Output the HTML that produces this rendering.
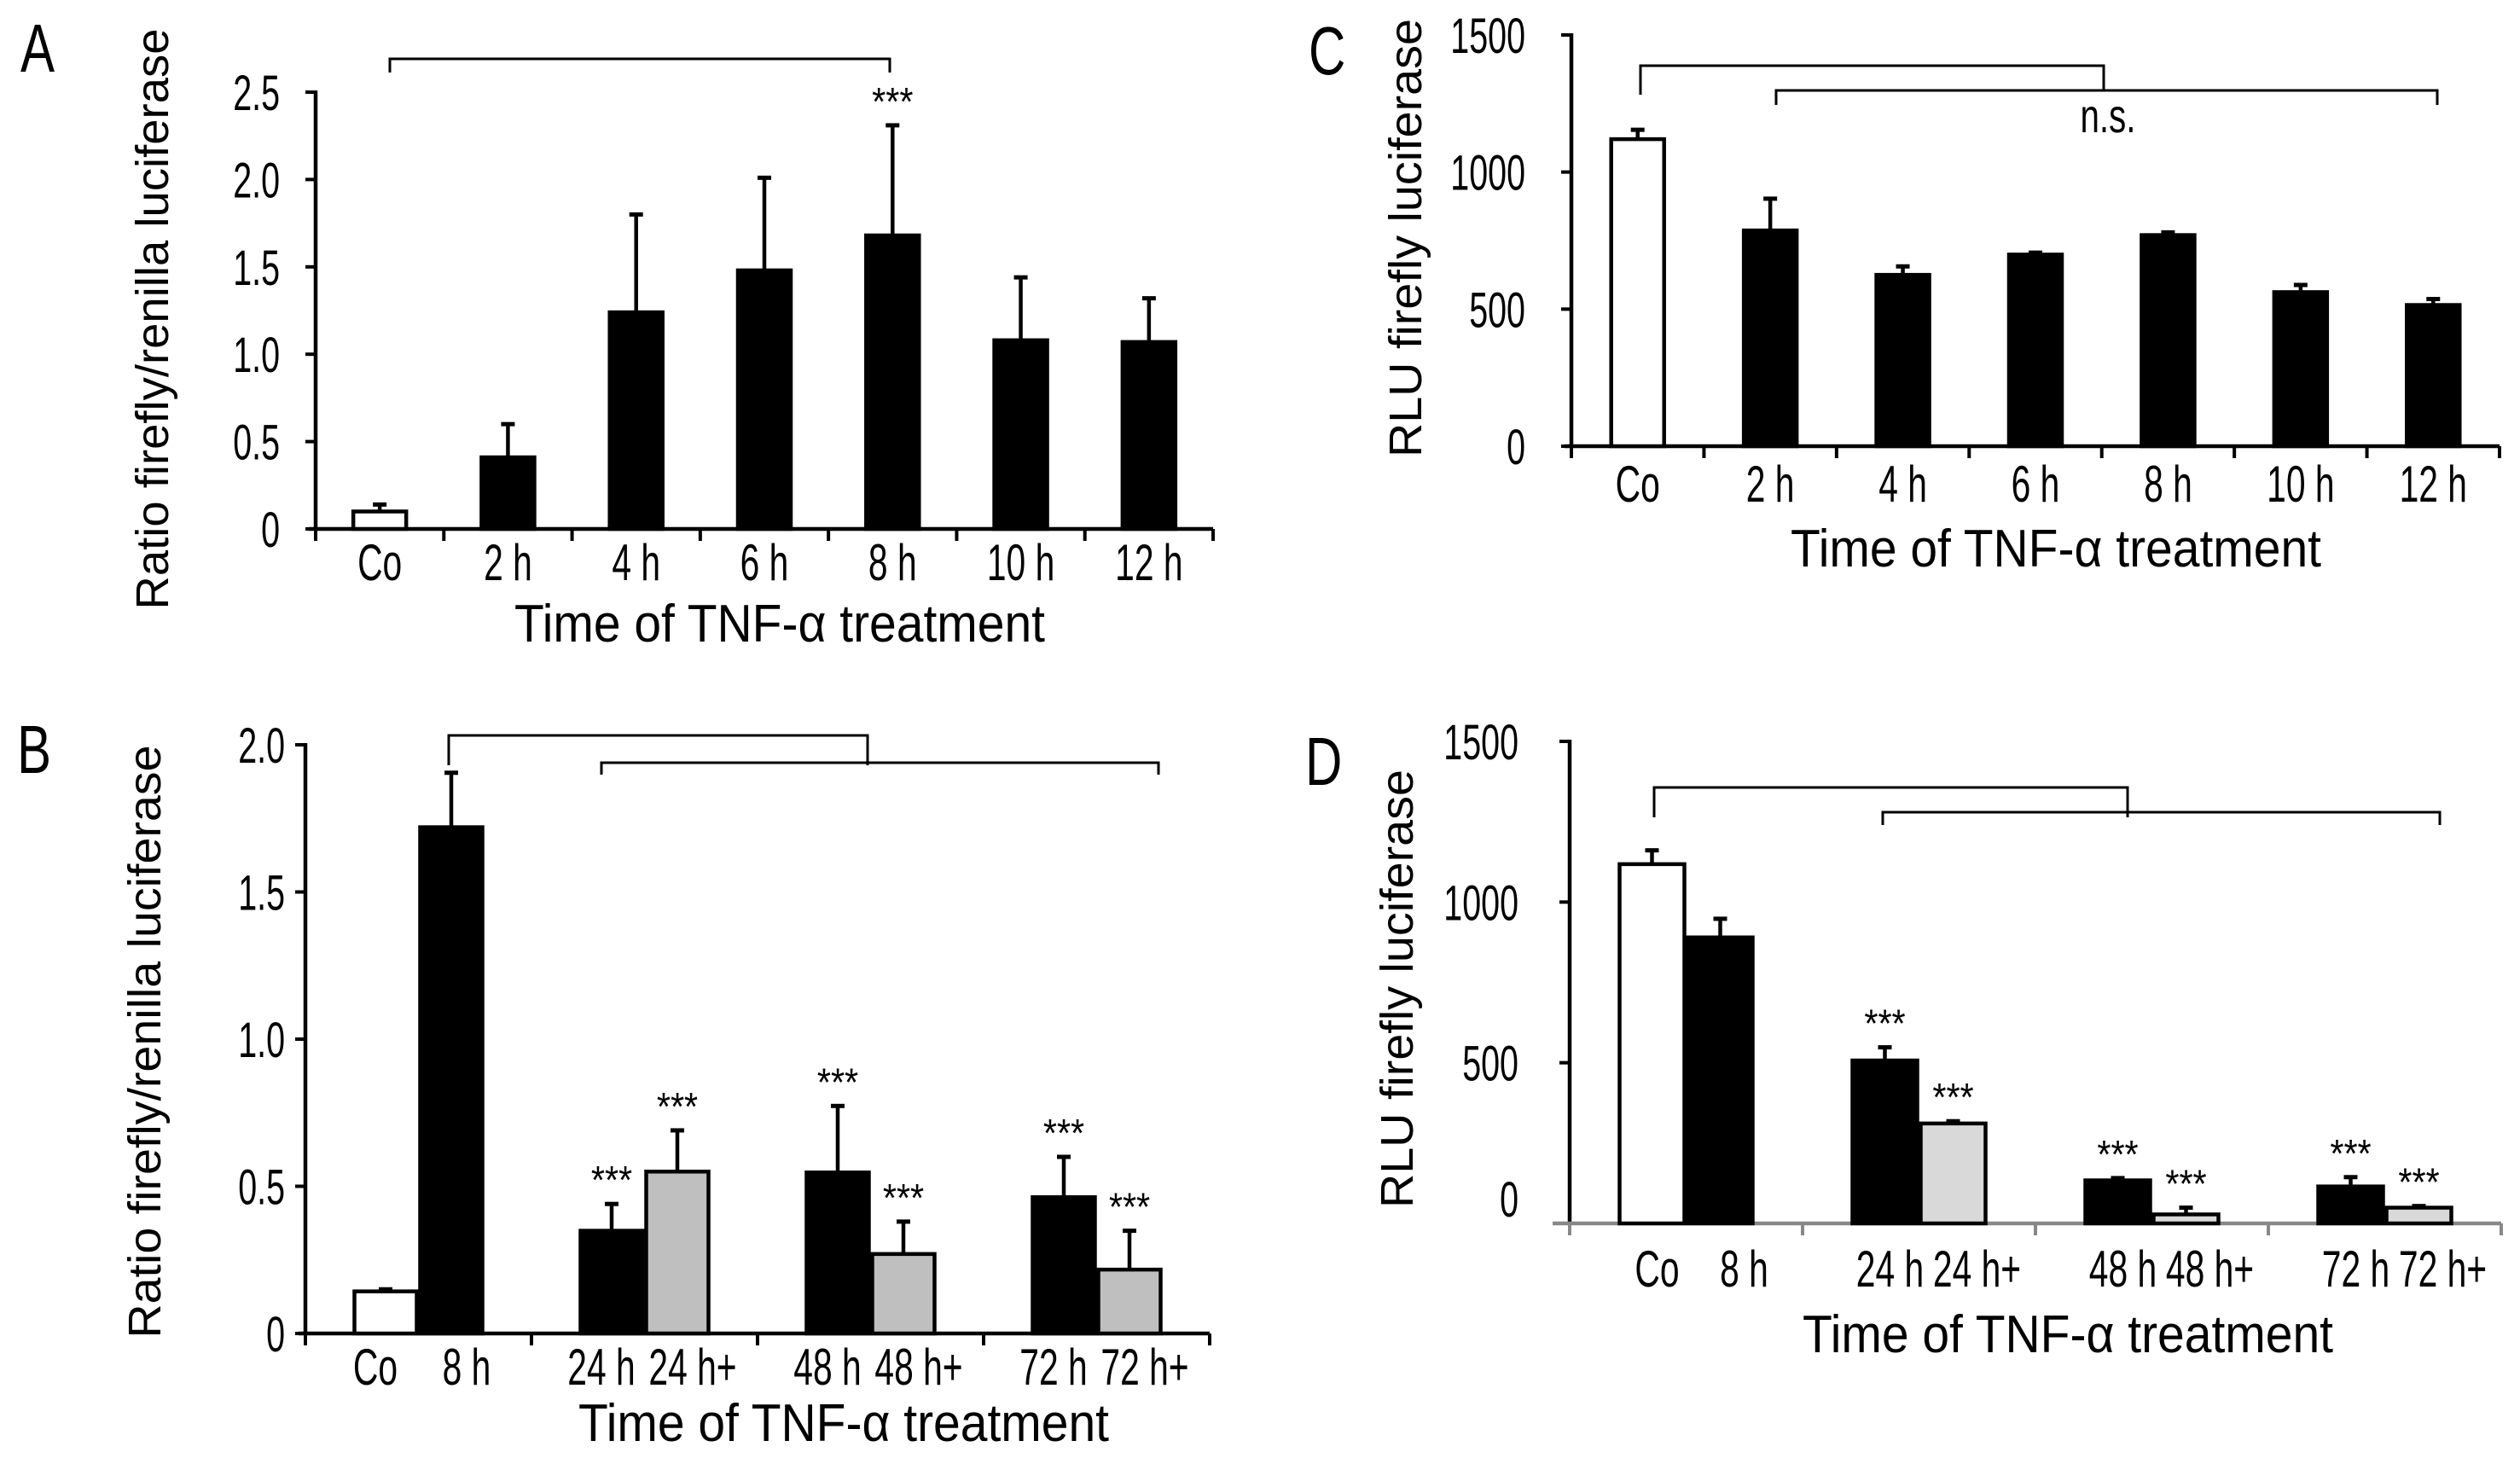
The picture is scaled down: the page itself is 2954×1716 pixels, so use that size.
<!DOCTYPE html>
<html><head><meta charset="utf-8"><style>
html,body{margin:0;padding:0;background:#fff;}
svg{display:block;font-family:"Liberation Sans",Arial,sans-serif;}
</style></head><body>
<svg id="fig" width="2954" height="1716" viewBox="0 0 2954 1716" xmlns="http://www.w3.org/2000/svg"></svg>
<script>
// ---- Panel A data ----
const catsA = ["Co","2 h","4 h","6 h","8 h","10 h","12 h"];
const valsA = [0.10,0.41,1.24,1.48,1.68,1.08,1.07];
const errA  = [0.14,0.60,1.80,2.01,2.31,1.44,1.32];
const ticksA = [0,0.5,1.0,1.5,2.0,2.5];
const tickLabelsA = ["0","0.5","1.0","1.5","2.0","2.5"];
const starsA = [false,false,false,false,true,false,false];
// ---- Panel C data ----
const catsC = ["Co","2 h","4 h","6 h","8 h","10 h","12 h"];
const valsC = [1120,787,625,699,770,562,515];
const errC  = [1154,903,656,706,780,588,537];
const ticksC = [0,500,1000,1500];
const tickLabelsC = ["0","500","1000","1500"];
// ---- Panel B data ----
const catsB = ["Co","8 h","24 h","24 h+","48 h","48 h+","72 h","72 h+"];
const valsB = [0.143,1.72,0.349,0.55,0.547,0.27,0.463,0.217];
const errB  = [0.15,1.905,0.44,0.69,0.773,0.38,0.60,0.349];
const ticksB = [0,0.5,1.0,1.5,2.0];
const tickLabelsB = ["0","0.5","1.0","1.5","2.0"];
const starsB = [false,false,true,true,true,true,true,true];
// ---- Panel D data ----
const catsD = ["Co","8 h","24 h","24 h+","48 h","48 h+","72 h","72 h+"];
const valsD = [1118,890,507,311,134,28,115,49];
const errD  = [1161,948,548,318,141,49,144,54];
const ticksD = [0,500,1000,1500];
const tickLabelsD = ["0","500","1000","1500"];
const starsD = [false,false,true,true,true,true,true,true];

const NS="http://www.w3.org/2000/svg";
const svg=document.getElementById('fig');
function mk(tag,attrs,parent){const e=document.createElementNS(NS,tag);for(const k in attrs)e.setAttribute(k,attrs[k]);(parent||svg).appendChild(e);return e;}
function txt(s,x,y,size,anchor,parent,sx){
  const t=mk('text',{x:0,y:0,'font-size':size,'text-anchor':anchor||'middle',fill:'#000',transform:`translate(${x},${y}) scale(${sx||0.78},1)`},parent);
  t.textContent=s;return t;}

function panel(o){
  const g=mk('g',{});
  
  
  const ys=v=>o.y0-(v/o.vmax)*(o.y0-o.ytop);
  const L=txt(o.letter,o.lx,o.ly,80,'start',g,0.75);
  
  
  const ya=mk('line',{x1:o.x0,y1:o.y0+2,x2:o.x0,y2:o.ytop-2,stroke:'#000','stroke-width':4.5},g);
  
  
  o.ticks.forEach((t,i)=>{
    const y=ys(t);
    mk('line',{x1:o.x0-12,y1:y,x2:o.x0,y2:y,stroke:'#000','stroke-width':4},g);
    const ly=(o.zeroLabelY!==undefined&&i===0)?o.zeroLabelY:y;
    const tl=txt(o.tickLabels[i],o.tlx,ly+21,58,'end',g,0.68);
    
    
  });
  const xa=mk('line',{x1:o.xaStart,y1:o.y0,x2:o.x1,y2:o.y0,stroke:o.xaColor||'#000','stroke-width':4.5},g);
  
  
  const ng=o.groups;
  const gw=(o.x1-o.x0)/ng;
  for(let i=0;i<=ng;i++){const x=o.x0+i*gw;mk('line',{x1:x,y1:o.y0,x2:x,y2:o.y0+14,stroke:o.xaColor||'#000','stroke-width':4},g);}
  const per=o.cats.length/ng;
  o.cats.forEach((c,i)=>{
    const gi=Math.floor(i/per), k=i%per;
    const gc=o.x0+gw*(gi+0.5);
    const bx=gc-per*o.bw/2+k*o.bw;
    const cx=bx+o.bw/2;
    const fill=o.fills(i);
    const y=ys(o.vals[i]);
    const ey=ys(o.errs[i]);
    const eb=mk('line',{x1:cx,y1:y,x2:cx,y2:ey,stroke:'#000','stroke-width':4.5},g);
    
    
    mk('line',{x1:cx-8,y1:ey,x2:cx+8,y2:ey,stroke:'#000','stroke-width':5},g);
    const r=mk('rect',{x:bx+2,y:y,width:o.bw-4,height:o.y0-y,fill:fill,stroke:'#000','stroke-width':4.5},g);
    
    
    const off=o.labOffs?o.labOffs[k]:0;
    const cl=txt(c,cx+off,o.catY,60,'middle',g,0.68);
    
    
    if(o.stars&&o.stars[i]){
      const s=txt('***',cx,ey-12,46,'middle',g,0.9);
      
      
    }
  });
  o.brackets.forEach(b=>{
    const p=mk('path',{d:`M${b[0]},${b[3]} L${b[0]},${b[2]} L${b[1]},${b[2]} L${b[1]},${b[4]}`,fill:'none',stroke:'#000','stroke-width':3},g);
    
    
  });
  const yt=mk('text',{x:0,y:0,'font-size':54,'text-anchor':'middle',textLength:o.ylLen,lengthAdjust:'spacingAndGlyphs',transform:`translate(${o.ylx},${o.yly}) rotate(-90)`},g);
  yt.textContent=o.ylabel;
  
  
  const xt=mk('text',{x:o.xtx,y:o.xty,'font-size':62,'text-anchor':'middle',textLength:622,lengthAdjust:'spacingAndGlyphs'},g);
  xt.textContent='Time of TNF-\u03b1 treatment';
  
  
  return g;
}

panel({id:'a',letter:'A',lx:24,ly:84,x0:370,x1:1422,xaStart:362,y0:620,ytop:108,vmax:2.5,
  ticks:ticksA,tickLabels:tickLabelsA,tlx:328,cats:catsA,vals:valsA,errs:errA,groups:7,bw:66,
  fills:i=>i===0?'#fff':'#000',stars:starsA,catY:680,
  brackets:[[457,1043,69,85,85]],ylabel:'Ratio firefly/renilla luciferase',ylLen:681,ylx:197,yly:374,xtx:914,xty:752});
panel({id:'c',letter:'C',lx:1534,ly:87,x0:1842,x1:2930,xaStart:1834,y0:523,ytop:41,vmax:1500,
  ticks:ticksC,tickLabels:tickLabelsC,tlx:1788,cats:catsC,vals:valsC,errs:errC,groups:7,bw:66,
  fills:i=>i===0?'#fff':'#000',catY:588,
  brackets:[[1923,2466,77,111,107],[2082,2857,106,123,123]],ylabel:'RLU firefly luciferase',ylLen:514,ylx:1666,yly:279,xtx:2410,xty:664});
const ns=txt('n.s.',2471,155,56,'middle',null,0.72);


panel({id:'b',letter:'B',lx:20,ly:906,x0:358,x1:1418,xaStart:350,y0:1563,ytop:873,vmax:2.0,
  ticks:ticksB,tickLabels:tickLabelsB,tlx:334,cats:catsB,vals:valsB,errs:errB,groups:4,bw:77,labOffs:[-12,18],
  fills:i=>i===0?'#fff':(i%2===1&&i>1?'#bfbfbf':'#000'),stars:starsB,catY:1623,
  brackets:[[526,1017,862,897,897],[705,1358,894,908,908]],ylabel:'Ratio firefly/renilla luciferase',ylLen:695,ylx:188,yly:1221,xtx:989,xty:1689});
panel({id:'d',letter:'D',lx:1530,ly:920,x0:1840,x1:2932,xaStart:1820,y0:1434,ytop:869,vmax:1500,zeroLabelY:1405,
  ticks:ticksD,tickLabels:tickLabelsD,tlx:1780,cats:catsD,vals:valsD,errs:errD,groups:4,bw:80,xaColor:'#888',labOffs:[6,28],
  fills:i=>i===0?'#fff':(i%2===1&&i>1?'#d9d9d9':'#000'),stars:starsD,catY:1508,
  brackets:[[1939,2494,923,958,958],[2207,2860,952,967,967]],ylabel:'RLU firefly luciferase',ylLen:514,ylx:1656,yly:1159,xtx:2424,xty:1585});
</script>
</body></html>
